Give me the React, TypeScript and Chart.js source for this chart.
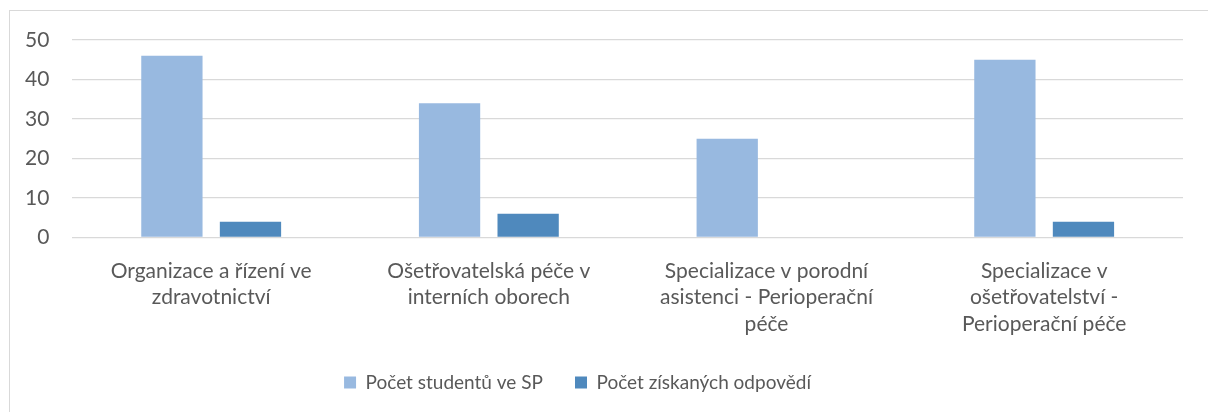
import React, { useEffect, useRef } from 'react';
import { Chart, registerables } from 'chart.js';

Chart.register(...registerables);

const categories: string[][] = [
  ['Organizace a řízení ve', 'zdravotnictví'],
  ['Ošetřovatelská péče v', 'interních oborech'],
  ['Specializace v porodní', 'asistenci - Perioperační', 'péče'],
  ['Specializace v', 'ošetřovatelství -', 'Perioperační péče'],
];
const seriesNames = ['Počet studentů ve SP', 'Počet získaných odpovědí'];
const studentCounts = [46, 34, 25, 45];
const responseCounts = [4, 6, 0, 4];
const yMin = 0;
const yMax = 50;
const yStep = 10;

const TEXT = '#595959';
const GRID = '#D9D9D9';
const FONT = 'Lato';

const legendShift = {
  id: 'legendShift',
  afterLayout(chart: any) {
    if (chart.legend) {
      chart.legend.left -= 15;
      chart.legend.right -= 15;
    }
  },
};

export default function App() {
  const ref = useRef<HTMLCanvasElement | null>(null);

  useEffect(() => {
    const prevMargin = document.body.style.margin;
    document.body.style.margin = '0';
    if (!ref.current) return;
    const chart = new Chart(ref.current, {
      type: 'bar',
      data: {
        labels: categories as any,
        datasets: [
          {
            label: seriesNames[0],
            data: studentCounts,
            backgroundColor: '#98B9E0',
            categoryPercentage: 0.566,
            barPercentage: 0.78,
          },
          {
            label: seriesNames[1],
            data: responseCounts,
            backgroundColor: '#4F89BD',
            categoryPercentage: 0.566,
            barPercentage: 0.78,
          },
        ],
      },
      plugins: [legendShift],
      options: {
        animation: false,
        responsive: false,
        maintainAspectRatio: false,
        layout: { padding: { left: 2, right: 25, top: 40, bottom: 10 } },
        plugins: {
          tooltip: { enabled: false },
          legend: {
            position: 'bottom',
            labels: {
              boxWidth: 12,
              boxHeight: 12,
              padding: 32,
              color: TEXT,
              font: { family: FONT, size: 19 },
            },
          },
        },
        scales: {
          x: {
            grid: { display: false, drawTicks: false },
            border: { display: false },
            ticks: {
              color: TEXT,
              font: { family: FONT, size: 21, lineHeight: 1.262 },
              padding: 20,
              maxRotation: 0,
              autoSkip: false,
            },
            afterFit: (scale: any) => {
              scale.height = scale.height - 16;
            },
          },
          y: {
            min: yMin,
            max: yMax,
            grid: { color: GRID, lineWidth: 1.3, drawTicks: false },
            border: { display: false },
            ticks: {
              stepSize: yStep,
              color: TEXT,
              font: { family: FONT, size: 21 },
              padding: 23,
            },
          },
        },
      },
    });
    return () => {
      chart.destroy();
      document.body.style.margin = prevMargin;
    };
  }, []);

  return (
    <div style={{ position: 'relative', width: 1208, height: 412, overflow: 'hidden', background: '#fff' }}>
      <div
        style={{
          position: 'absolute',
          left: 9,
          top: 10,
          width: 1300,
          height: 500,
          border: `1px solid ${GRID}`,
          boxSizing: 'border-box',
        }}
      />
      <canvas ref={ref} width={1208} height={412} style={{ position: 'absolute', left: 0, top: 0 }} />
    </div>
  );
}
